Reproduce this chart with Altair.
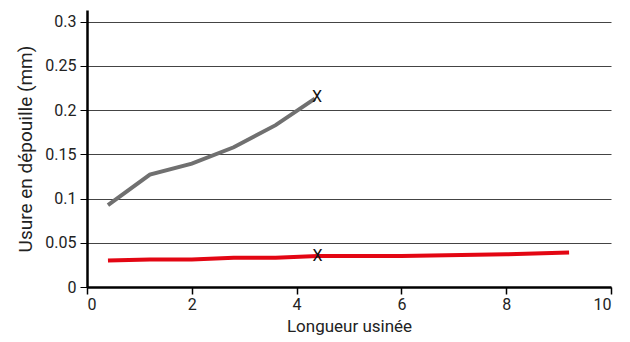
import altair as alt
import pandas as pd

gray_x = [0.4, 1.2, 2.0, 2.8, 3.6, 4.35]
gray_y = [0.0925, 0.127, 0.1395, 0.158, 0.183, 0.213]
red_x = [0.4, 1.2, 2.0, 2.8, 3.6, 4.4, 6.0, 8.0, 9.2]
red_y = [0.030, 0.031, 0.031, 0.033, 0.033, 0.035, 0.035, 0.037, 0.039]
mark_x = [4.39, 4.4]
mark_y = [0.215, 0.035]
mark_s = ["gris", "rouge"]
x_ticks = [0, 2, 4, 6, 8, 10]
y_ticks = [0, 0.05, 0.1, 0.15, 0.2, 0.25, 0.3]

df_g = pd.DataFrame({"x": gray_x, "y": gray_y})
df_r = pd.DataFrame({"x": red_x, "y": red_y})
df_m = pd.DataFrame({"x": mark_x, "y": mark_y, "s": mark_s})

FONT = "Roboto"
xs = alt.Scale(domain=[0, 10], nice=False)
ys = alt.Scale(domain=[0, 0.3132], nice=False)

xenc = alt.X("x:Q", scale=xs, axis=alt.Axis(
    values=x_ticks, title="Longueur usinée", grid=False, domainColor="black",
    domainWidth=2.5, tickColor="black", tickWidth=1.5, tickSize=7,
    labelFont=FONT, labelFontSize=16, labelColor="#222", labelPadding=2,
    titleFont=FONT, titleFontSize=17, titleFontWeight="normal", titleColor="#222",
    titlePadding=6, format="d"))
yenc = alt.Y("y:Q", scale=ys, axis=alt.Axis(
    values=y_ticks, title="Usure en dépouille (mm)", grid=True, gridColor="#444",
    gridWidth=1, domainColor="black", domainWidth=2.5, tickColor="black",
    tickWidth=1, tickSize=7, labelFont=FONT, labelFontSize=16, labelColor="#222",
    labelPadding=4, titleFont=FONT, titleFontSize=19, titleFontWeight="normal",
    titleColor="#222", titlePadding=9, labelExpr="datum.value === 0 ? '0' : format(datum.value, '.2~f')"))

g = alt.Chart(df_g).mark_line(color="#707070", strokeWidth=4).encode(x=xenc, y=yenc)
r = alt.Chart(df_r).mark_line(color="#e30613", strokeWidth=4).encode(x="x:Q", y="y:Q")
m = alt.Chart(df_m).mark_text(text="X", font=FONT, fontSize=16, color="#111").encode(x="x:Q", y="y:Q")

chart = alt.layer(g, r, m).properties(
    width=524, height=277,
    autosize=alt.AutoSizeParams(type="none"),
    padding={"left": 79, "top": 2, "right": 10, "bottom": 52},
).configure_view(stroke=None)

chart.save("out.html", embed_options={"renderer": "svg", "actions": False})
